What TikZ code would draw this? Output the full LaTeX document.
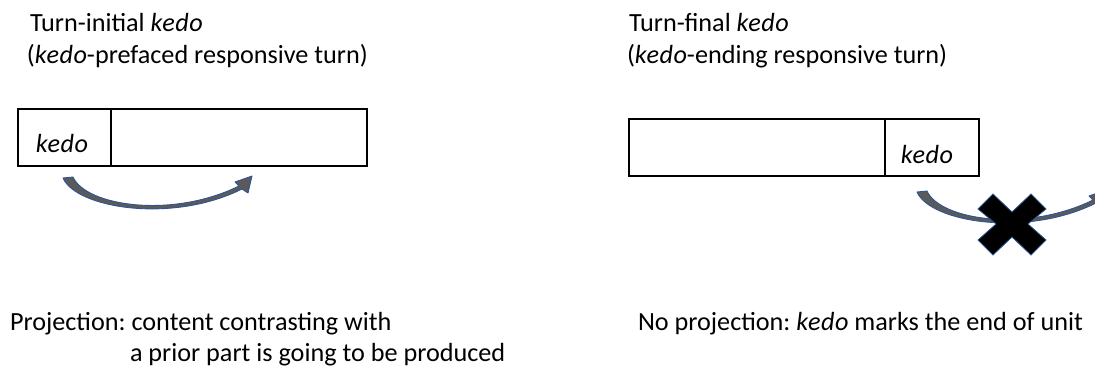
\documentclass[tikz,border=0pt]{standalone}
\usepackage{fontspec}
\setmainfont{Carlito}
\frenchspacing
\newcommand\kedo{{\itshape\addfontfeature{LetterSpace=2}kedo}}
\definecolor{arrowfill}{HTML}{5A5A5A}
\definecolor{arrowline}{HTML}{2F5597}
\begin{document}
\begin{tikzpicture}[x=1pt,y=-1pt,
  every node/.style={inner sep=0pt,outer sep=0pt,font=\fontsize{26.2}{32}\selectfont},
  label/.style={anchor=base west},
  turnbox/.style={draw=black,line width=1.2pt},
  curvedarrow/.style={fill=arrowfill,draw=arrowline,line width=0.9pt,line join=round},
  crossmark/.style={fill=black,draw=arrowline,line width=0.8pt,line join=miter}]
\useasboundingbox (0,0) rectangle (1095,365);

% headings
\node[label] (titleL1) at (30,31) {Turn-initial \kedo};
\node[label] (titleL2) at (27,63) {(\kedo-prefaced responsive turn)};
\node[label] (titleR1) at (629,31) {Turn-final \kedo};
\node[label] (titleR2) at (627,63) {(\kedo-ending responsive turn)};

% left turn: kedo in the first slot
\coordinate (L0) at (18,109);
\coordinate (L1) at (111,166);
\coordinate (L2) at (367,166);
\draw[turnbox] (L0) rectangle (L1);
\draw[turnbox] (L1 |- L0) rectangle (L2);
\node[anchor=base] (kedoL) at (62,152) {\kedo};

% right turn: kedo in the last slot
\coordinate (R0) at (629,119);
\coordinate (R1) at (885,176);
\coordinate (R2) at (979,176);
\draw[turnbox] (R0) rectangle (R1);
\draw[turnbox] (R1 |- R0) rectangle (R2);
\node[anchor=base] (kedoR) at (927,163) {\kedo};

% tapered curved arrows (the second one runs past the right edge)
\begin{scope}
\clip (0,0) rectangle (1095,365);
\foreach \dx/\dy in {0/0, 854/14}{
  \begin{scope}[shift={(\dx,\dy)}]
    \draw[curvedarrow] (63,178)
      .. controls (76,208) and (172,224) .. (242,189)
      -- (248,193) -- (252,176) -- (235,182) -- (239,186)
      .. controls (172,219) and (86,206) .. (73,177) -- cycle;
  \end{scope}
}
\end{scope}

% cross over the right arrow
\draw[crossmark] (993,194) -- (1012,212) -- (1031,194) -- (1046,209) -- (1028,224)
  -- (1046,240) -- (1031,255) -- (1012,237) -- (993,255) -- (978,240)
  -- (996,224) -- (978,209) -- cycle;

% captions
\node[label] (projL1) at (10,330) {Projection: content contrasting with};
\node[label] (projL2) at (130,361) {a prior part is going to be produced};
\node[label] (projR) at (638,330) {No projection: \kedo\ marks the end of unit};
\end{tikzpicture}
\end{document}
